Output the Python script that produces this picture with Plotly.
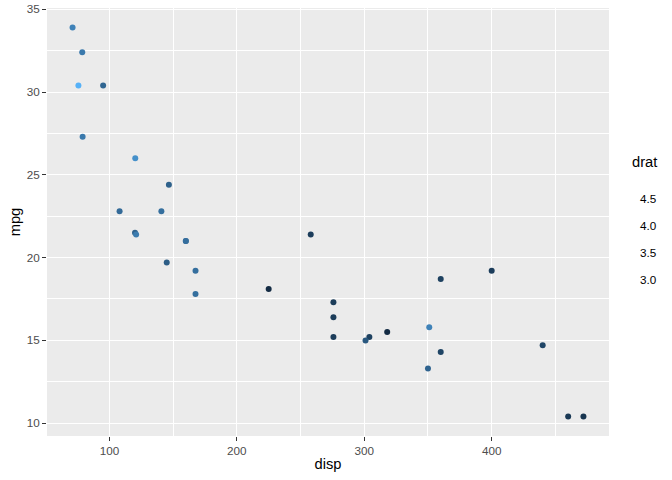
import plotly.graph_objects as go

disp = [160, 160, 108, 258, 360, 225, 360, 146.7, 140.8, 167.6, 167.6, 275.8, 275.8, 275.8,
        472, 460, 440, 78.7, 75.7, 71.1, 120.1, 318, 304, 350, 400, 79, 120.3, 95.1, 351,
        145, 301, 121]
mpg = [21.0, 21.0, 22.8, 21.4, 18.7, 18.1, 14.3, 24.4, 22.8, 19.2, 17.8, 16.4, 17.3, 15.2,
       10.4, 10.4, 14.7, 32.4, 30.4, 33.9, 21.5, 15.5, 15.2, 13.3, 19.2, 27.3, 26.0, 30.4,
       15.8, 19.7, 15.0, 21.4]
drat = [3.90, 3.90, 3.85, 3.08, 3.15, 2.76, 3.21, 3.69, 3.92, 3.92, 3.92, 3.07, 3.07, 3.07,
        2.93, 3.00, 3.23, 4.08, 4.93, 4.22, 3.70, 2.76, 3.15, 3.73, 3.08, 4.08, 4.43, 3.77,
        4.22, 3.62, 3.54, 4.11]
legend_ticks = [3.0, 3.5, 4.0, 4.5]

colorscale = [[0.0, "#132B43"], [0.25, "#224A6C"], [0.5, "#336A98"], [0.75, "#448DC6"], [1.0, "#56B1F7"]]

W, H = 672, 480
L, R, T, B = 46.5, 62.5, 7.8, 44.2
pw = W - L - R
ph = H - T - B

fig = go.Figure(go.Scatter(
    x=disp, y=mpg, mode="markers",
    marker=dict(size=6, color=drat, colorscale=colorscale, cmin=min(drat), cmax=max(drat),
                line=dict(width=0), showscale=False),
    showlegend=False,
))

def ypaper(px):
    return (H - B - px) / ph

def xpaper(px):
    return (px - L) / pw

annotations = [dict(text="drat", xref="paper", yref="paper", x=xpaper(631), y=ypaper(162),
                    xanchor="left", yanchor="middle", showarrow=False,
                    font=dict(size=14.7, color="black"))]
for v in legend_ticks:
    py = 279 - (v - 3.0) * 54
    annotations.append(dict(text=f"{v:.1f}", xref="paper", yref="paper", x=xpaper(639), y=ypaper(py),
                            xanchor="left", yanchor="middle", showarrow=False,
                            font=dict(size=11.7, color="black")))

grid = "white"
fig.update_layout(
    width=W, height=H,
    margin=dict(l=L, r=R, t=T, b=B, autoexpand=False),
    paper_bgcolor="white", plot_bgcolor="#EBEBEB",
    font=dict(family="Liberation Sans, Arial, sans-serif"),
    annotations=annotations,
    xaxis=dict(range=[51.05, 492.05], tickvals=[100, 200, 300, 400], showgrid=True, automargin=False,
               gridcolor=grid, gridwidth=1.1, zeroline=False,
               ticks="outside", ticklen=4, tickcolor="#333333", tickwidth=1.1,
               tickfont=dict(size=11.7, color="#4D4D4D"),
               title=dict(text="disp", font=dict(size=14.7, color="black"), standoff=2),
               minor=dict(tickvals=[50, 150, 250, 350, 450], showgrid=True, gridcolor=grid, gridwidth=0.55, ticks="")),
    yaxis=dict(range=[9.225, 35.075], tickvals=[10, 15, 20, 25, 30, 35], showgrid=True, automargin=False,
               gridcolor=grid, gridwidth=1.1, zeroline=False,
               ticks="outside", ticklen=4, tickcolor="#333333", tickwidth=1.1,
               tickfont=dict(size=11.7, color="#4D4D4D"),
               title=dict(text="mpg", font=dict(size=14.7, color="black"), standoff=2),
               minor=dict(tickvals=[12.5, 17.5, 22.5, 27.5, 32.5], showgrid=True, gridcolor=grid, gridwidth=0.55, ticks="")),
)

fig.write_html("out.html", config={"displayModeBar": False},
               post_script="document.body.style.margin='0';")
